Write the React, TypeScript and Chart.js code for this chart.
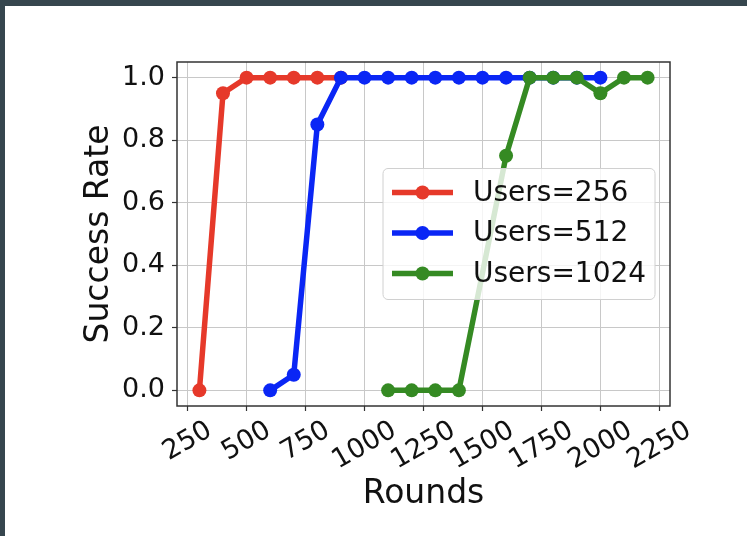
import React, { useEffect, useRef } from "react";
import { Chart, registerables } from "chart.js";

Chart.register(...registerables);

const FONT = '"DejaVu Sans", "Liberation Sans", sans-serif';

// ---- data ----
const rounds256 = [300, 400, 500, 600, 700, 800, 900];
const success256 = [0, 0.95, 1, 1, 1, 1, 1];

const rounds512 = [600, 700, 800, 900, 1000, 1100, 1200, 1300, 1400, 1500, 1600, 1700, 1800, 1900, 2000];
const success512 = [0, 0.05, 0.85, 1, 1, 1, 1, 1, 1, 1, 1, 1, 1, 1, 1];

const rounds1024 = [1100, 1200, 1300, 1400, 1600, 1700, 1800, 1900, 2000, 2100, 2200];
const success1024 = [0, 0, 0, 0, 0.75, 1, 1, 1, 0.95, 1, 1];

const seriesLabels = ["Users=256", "Users=512", "Users=1024"];
const seriesColors = ["#e6392a", "#0a26f5", "#358a23"];

const xTicks = [250, 500, 750, 1000, 1250, 1500, 1750, 2000, 2250];
const yTicks = [0, 0.2, 0.4, 0.6, 0.8, 1.0];
const xRange = [205, 2295];
const yRange = [-0.05, 1.05];

const xTitle = "Rounds";
const yTitle = "Success Rate";

const TICK_SIZE = 27;
const TITLE_SIZE = 33;

const toPoints = (xs: number[], ys: number[]) => xs.map((x, i) => ({ x, y: ys[i] }));

const legendPlugin = {
  id: "mplLegend",
  afterDatasetsDraw(chart: any) {
    const { ctx, chartArea: ca } = chart;
    const boxW = 272;
    const boxH = 131;
    const right = ca.right - 15;
    const left = right - boxW;
    const top = (ca.top + ca.bottom) / 2 - boxH / 2;
    ctx.save();
    const r = 5;
    ctx.beginPath();
    ctx.moveTo(left + r, top);
    ctx.lineTo(left + boxW - r, top);
    ctx.arcTo(left + boxW, top, left + boxW, top + r, r);
    ctx.lineTo(left + boxW, top + boxH - r);
    ctx.arcTo(left + boxW, top + boxH, left + boxW - r, top + boxH, r);
    ctx.lineTo(left + r, top + boxH);
    ctx.arcTo(left, top + boxH, left, top + boxH - r, r);
    ctx.lineTo(left, top + r);
    ctx.arcTo(left, top, left + r, top, r);
    ctx.closePath();
    ctx.fillStyle = "rgba(255,255,255,0.8)";
    ctx.fill();
    ctx.strokeStyle = "#d0d0d0";
    ctx.lineWidth = 1;
    ctx.stroke();

    chart.data.datasets.forEach((ds: any, i: number) => {
      const y = top + 24 + i * 40.5;
      const x0 = left + 9;
      const x1 = left + 70;
      ctx.strokeStyle = ds.borderColor;
      ctx.lineWidth = ds.borderWidth;
      ctx.lineCap = "butt";
      ctx.beginPath();
      ctx.moveTo(x0, y);
      ctx.lineTo(x1, y);
      ctx.stroke();
      ctx.fillStyle = ds.pointBackgroundColor;
      ctx.beginPath();
      ctx.arc((x0 + x1) / 2, y, ds.pointRadius, 0, Math.PI * 2);
      ctx.fill();
      ctx.fillStyle = "#111";
      ctx.font = `28px ${FONT}`;
      ctx.textAlign = "left";
      ctx.textBaseline = "middle";
      ctx.fillText(ds.label, left + 90, y + 1);
    });
    ctx.restore();
  },
};

const framePlugin = {
  id: "mplFrame",
  afterDraw(chart: any) {
    const { ctx, chartArea: ca } = chart;
    const xs = chart.scales.x;
    ctx.save();
    ctx.strokeStyle = "#333";
    ctx.lineWidth = 1.5;
    ctx.strokeRect(ca.left, ca.top, ca.right - ca.left, ca.bottom - ca.top);

    // rotated x tick labels, centred on their ticks (matplotlib style)
    ctx.font = `${TICK_SIZE}px ${FONT}`;
    ctx.fillStyle = "#111";
    ctx.textAlign = "center";
    ctx.textBaseline = "middle";
    const ang = Math.PI / 6;
    xs.ticks.forEach((t: any) => {
      const label = String(t.value);
      const px = xs.getPixelForValue(t.value);
      const w = ctx.measureText(label).width;
      const h = TICK_SIZE * 1.16;
      const cy = ca.bottom + 9 + (w * Math.sin(ang) + h * Math.cos(ang)) / 2;
      ctx.save();
      ctx.translate(px, cy);
      ctx.rotate(-ang);
      ctx.fillText(label, 0, 0);
      ctx.restore();
    });
    ctx.restore();
  },
};

export default function App() {
  const ref = useRef<HTMLCanvasElement | null>(null);

  useEffect(() => {
    if (!ref.current) return;
    const mk = (i: number, xs: number[], ys: number[]) => ({
      label: seriesLabels[i],
      data: toPoints(xs, ys),
      borderColor: seriesColors[i],
      backgroundColor: seriesColors[i],
      pointBackgroundColor: seriesColors[i],
      pointBorderWidth: 0,
      pointRadius: 7,
      borderWidth: 5.5,
      tension: 0,
      fill: false,
      order: 2 - i, // later series drawn on top, as in the reference
    });
    const chart = new Chart(ref.current, {
      type: "line",
      data: {
        datasets: [
          mk(0, rounds256, success256),
          mk(1, rounds512, success512),
          mk(2, rounds1024, success1024),
        ],
      },
      options: {
        animation: false,
        responsive: false,
        maintainAspectRatio: false,
        layout: { padding: { left: 75, top: 56, right: 77, bottom: 22 } },
        plugins: { legend: { display: false }, tooltip: { enabled: false } },
        scales: {
          x: {
            type: "linear",
            min: xRange[0],
            max: xRange[1],
            afterBuildTicks: (s: any) => {
              s.ticks = xTicks.map((v) => ({ value: v }));
            },
            afterFit: (s: any) => {
              s.height = 108;
            },
            ticks: { display: false },
            grid: { color: "#c8c8c8", lineWidth: 1, tickLength: 5, tickColor: "#333", tickWidth: 1.2 },
            border: { display: false },
            title: { display: true, text: xTitle, font: { family: FONT, size: TITLE_SIZE }, color: "#111", padding: 0 },
          },
          y: {
            type: "linear",
            min: yRange[0],
            max: yRange[1],
            afterBuildTicks: (s: any) => {
              s.ticks = yTicks.map((v) => ({ value: v }));
            },
            afterFit: (s: any) => {
              s.width = 97;
            },
            ticks: {
              font: { family: FONT, size: TICK_SIZE },
              color: "#111",
              padding: 7,
              callback: (v: any) => Number(v).toFixed(1),
            },
            grid: { color: "#c8c8c8", lineWidth: 1, tickLength: 5, tickColor: "#333", tickWidth: 1.2 },
            border: { display: false },
            title: { display: true, text: yTitle, font: { family: FONT, size: TITLE_SIZE }, color: "#111", padding: 0 },
          },
        },
      },
      plugins: [legendPlugin, framePlugin],
    } as any);
    return () => chart.destroy();
  }, []);

  return (
    <div style={{ position: "fixed", left: 0, top: 0, width: 747, height: 536, background: "#36464e" }}>
      <div style={{ position: "absolute", left: 5, top: 6, width: 742, height: 530, background: "#ffffff" }}>
        <canvas ref={ref} width={742} height={530} style={{ display: "block" }} />
      </div>
    </div>
  );
}
